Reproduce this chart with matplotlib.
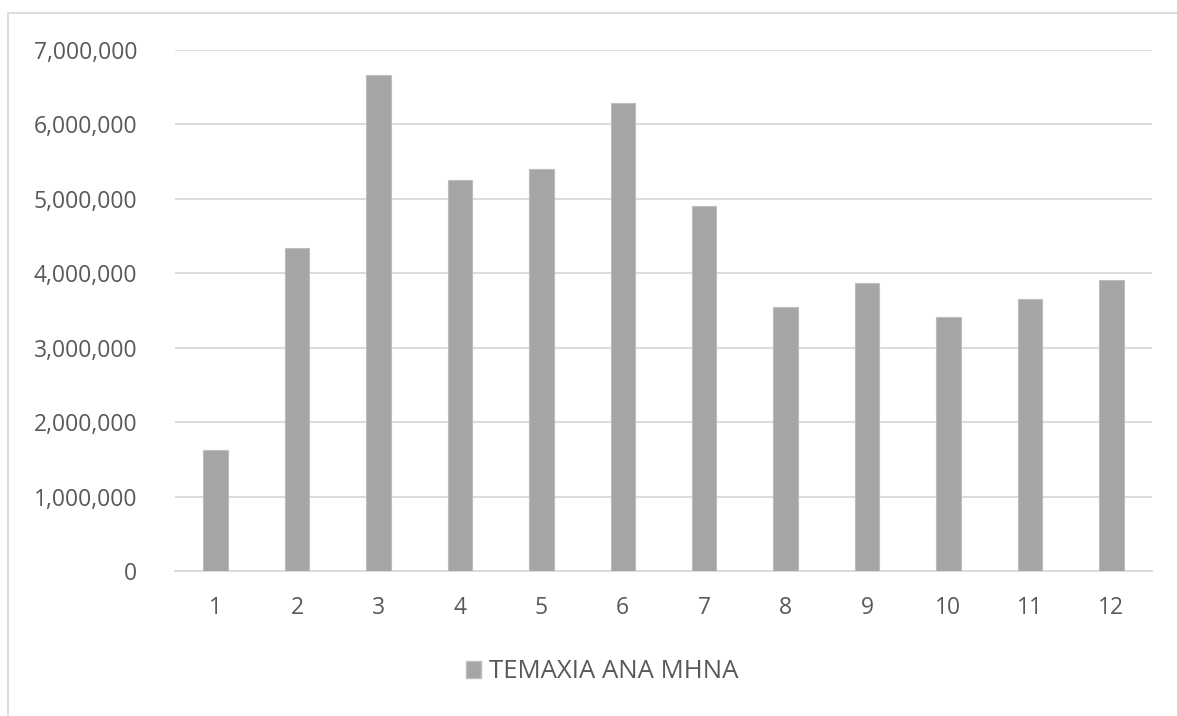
import numpy as np
import matplotlib.pyplot as plt
from matplotlib.patches import Rectangle, Patch
from matplotlib.ticker import FuncFormatter

# monthly units
months = ['1', '2', '3', '4', '5', '6', '7', '8', '9', '10', '11', '12']
units = [1630000, 4340000, 6660000, 5260000, 5400000, 6290000,
         4900000, 3550000, 3870000, 3410000, 3650000, 3910000]
series_name = 'ΤΕΜΑΧΙΑ ΑΝΑ ΜΗΝΑ'

plt.rcParams['font.family'] = ['Open Sans', 'DejaVu Sans']
txt = '#595959'

fig = plt.figure(figsize=(11.77, 7.16), dpi=100)
W, H = 1177, 716
ax = fig.add_axes([175 / W, 1 - 571 / H, (1152 - 175) / W, (571 - 50) / H])

x = np.arange(len(months))
ax.bar(x, units, width=0.3, color='#a5a5a5', edgecolor='#bdbdbd', linewidth=0.8,
       zorder=3, label=series_name)

ax.set_xlim(-0.5, len(months) - 0.5)
ax.set_ylim(0, 7000000)
ax.set_yticks(np.arange(0, 7000001, 1000000))
ax.yaxis.set_major_formatter(FuncFormatter(lambda v, p: f'{int(v):,}'))
ax.set_xticks(x)
ax.set_xticklabels(months)

ax.grid(axis='y', color='#d9d9d9', linewidth=1.3, zorder=0)
for s in ['top', 'right', 'left']:
    ax.spines[s].set_visible(False)
ax.spines['bottom'].set_color('#d9d9d9')
ax.spines['bottom'].set_linewidth(1.3)
ax.tick_params(axis='both', length=0, labelsize=16.5, colors=txt)
ax.tick_params(axis='y', pad=27)
ax.tick_params(axis='x', pad=18)

# chart frame
fig.patches.append(Rectangle((8 / W, -0.05), 1.1, 1 - 13 / H + 0.05,
                             transform=fig.transFigure, fill=False,
                             edgecolor='#d9d9d9', linewidth=1.3))

handle = Patch(facecolor='#a5a5a5', edgecolor='#bdbdbd')
fig.legend([handle], [series_name], loc='center', bbox_to_anchor=(602 / W, 1 - 672 / H),
           frameon=False, fontsize=18.5, labelcolor=txt, handlelength=0.6,
           handleheight=0.6, handletextpad=0.3)

fig.savefig('out.png', dpi=100, facecolor='white')
